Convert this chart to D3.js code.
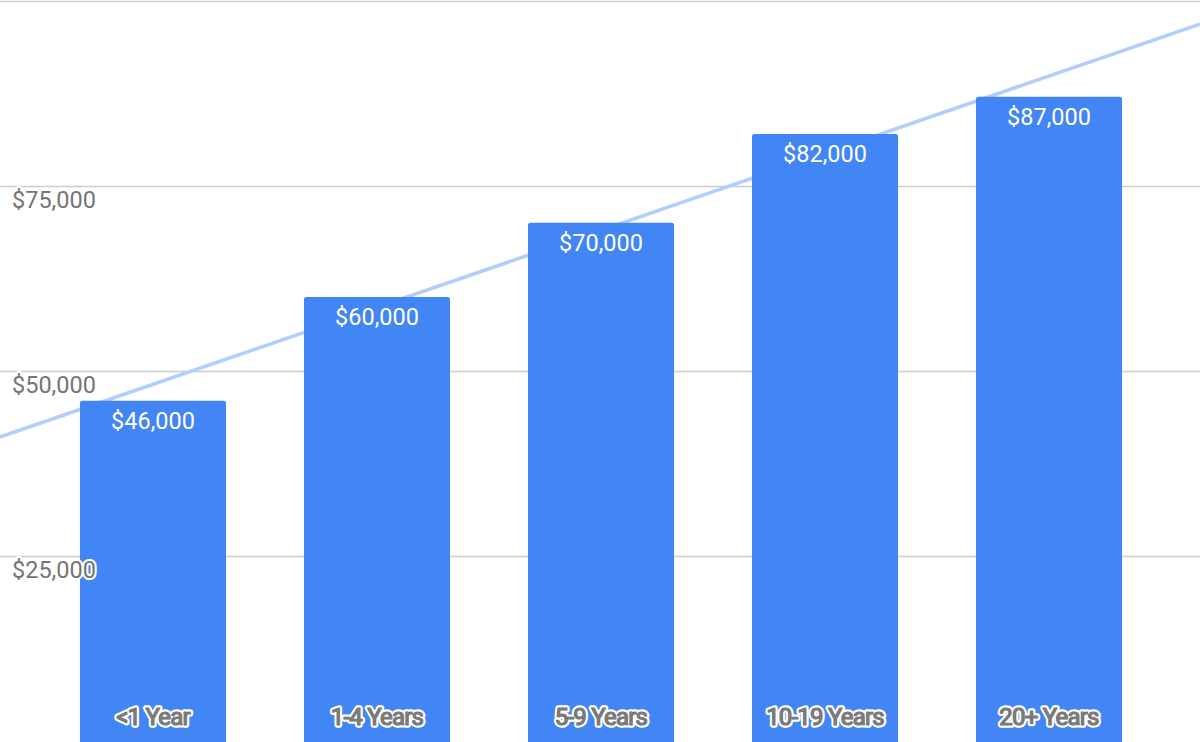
<!DOCTYPE html>
<html><head><meta charset="utf-8">
<script src="https://cdn.jsdelivr.net/npm/d3@7"></script>
<style>html,body{margin:0;padding:0;background:#fff;overflow:hidden}</style>
</head><body>
<svg id="c" width="1200" height="742"></svg>
<script>
const categories = ["<1 Year","1-4 Years","5-9 Years","10-19 Years","20+ Years"];
const salaries = [46000, 60000, 70000, 82000, 87000];
const tickValues = [25000, 50000, 75000, 100000];
const tickLabels = ["$25,000","$50,000","$75,000",""];

const W = 1200, H = 742;
const svg = d3.select("#c");
const font = "Roboto, Arial, sans-serif";

const x = d3.scaleBand().domain(categories).range([1, W + 1]).paddingInner(0.348).paddingOuter(0.3525);
const y = d3.scaleLinear().domain([0, 100000]).range([741.5, 0.5]);

// gridlines
svg.append("g").selectAll("line").data(tickValues).join("line")
  .attr("x1", 0).attr("x2", W)
  .attr("y1", d => Math.round(y(d)) + 0.5).attr("y2", d => Math.round(y(d)) + 0.5)
  .attr("stroke", "#cccccc").attr("stroke-width", 1.6);

// trendline (least squares over category index)
const mx = d3.mean(salaries, (d, i) => i), my = d3.mean(salaries);
const slope = d3.sum(salaries, (d, i) => (i - mx) * (d - my)) / d3.sum(salaries, (d, i) => (i - mx) ** 2);
const icpt = my - slope * mx;
const c0 = x(categories[0]) + x.bandwidth() / 2;
const step = x.step();
const trendAt = px => icpt + slope * ((px - c0) / step);
svg.append("line")
  .attr("x1", 0).attr("y1", y(trendAt(0)))
  .attr("x2", W).attr("y2", y(trendAt(W)))
  .attr("stroke", "#b3cefb").attr("stroke-width", 3.6);

// bars with slightly rounded top corners
const r = 2.5;
function barPath(d, i) {
  const x0 = x(categories[i]), w = x.bandwidth(), y0 = y(d), yb = y(0) + 1;
  return `M${x0},${yb}V${y0 + r}Q${x0},${y0} ${x0 + r},${y0}H${x0 + w - r}Q${x0 + w},${y0} ${x0 + w},${y0 + r}V${yb}Z`;
}
svg.append("g").selectAll("path").data(salaries).join("path")
  .attr("d", barPath).attr("fill", "#4285f4");

// y tick labels with white halo
svg.append("g").selectAll("text").data(tickValues).join("text")
  .attr("x", 12).attr("y", d => y(d) + 22)
  .text((d, i) => tickLabels[i])
  .attr("font-family", font).attr("font-size", 23.5).attr("fill", "#757575")
  .attr("stroke", "#ffffff").attr("stroke-width", 4).attr("stroke-linejoin", "round")
  .attr("paint-order", "stroke");

// value labels
const fmt = d3.format("$,");
svg.append("g").selectAll("text").data(salaries).join("text")
  .attr("x", (d, i) => x(categories[i]) + x.bandwidth() / 2)
  .attr("y", d => y(d) + 28)
  .attr("text-anchor", "middle")
  .attr("font-family", font).attr("font-size", 23.5).attr("fill", "#ffffff")
  .text(d => fmt(d));

// category labels inside bars at bottom: white halo, then grey outlined text
const catG = svg.append("g");
[{s: "#ffffff", w: 5.5}, {s: "#6e6e6e", w: 1.1}].forEach(layer => {
  catG.append("g").selectAll("text").data(categories).join("text")
    .attr("x", d => x(d) + x.bandwidth() / 2)
    .attr("y", 724.5)
    .attr("text-anchor", "middle")
    .attr("font-family", font).attr("font-size", 24).attr("fill", "#7c7c7c")
    .attr("stroke", layer.s).attr("stroke-width", layer.w).attr("stroke-linejoin", "round")
    .attr("paint-order", "stroke")
    .attr("letter-spacing", -0.8)
    .text(d => d);
});
</script>
</body></html>
